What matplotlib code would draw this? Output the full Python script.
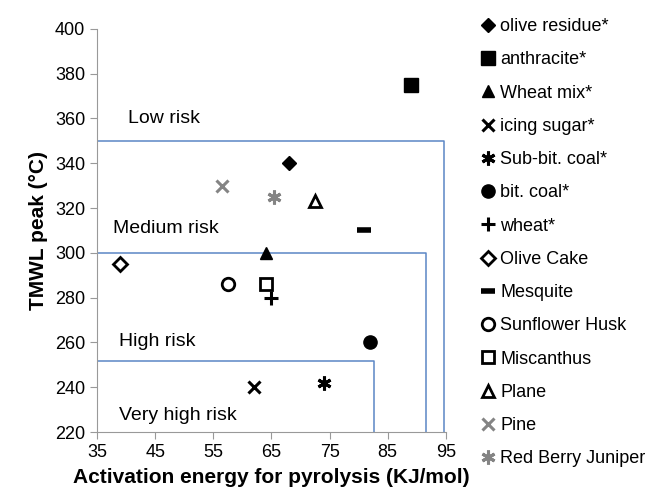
import matplotlib.pyplot as plt

plt.rcParams['font.family'] = ['Liberation Sans', 'DejaVu Sans']

# data
names = ["olive residue*", "anthracite*", "Wheat mix*", "icing sugar*", "Sub-bit. coal*",
         "bit. coal*", "wheat*", "Olive Cake", "Mesquite", "Sunflower Husk",
         "Miscanthus", "Plane", "Pine", "Red Berry Juniper"]
energy = [68, 89, 64, 62, 74, 82, 65, 39, 81, 57.5, 64, 72.5, 56.5, 65.5]
tmwl = [340, 375, 300, 240, 242, 260, 280, 295, 310, 286, 286, 323, 330, 325]

# risk zone boundaries: (y of horizontal line, x of vertical line)
zone_y = [350, 300, 251.5]
zone_x = [94.6, 91.5, 82.6]
zone_labels = ["Low risk", "Medium risk", "High risk", "Very high risk"]
zone_label_pos = [(40.3, 360), (37.8, 311), (38.8, 260.5), (38.8, 227.5)]

# marker styles
styles = [
    dict(marker='D', color='black', ms=7.5),
    dict(marker='s', color='black', ms=10),
    dict(marker='^', color='black', ms=8.5),
    dict(marker='x', color='black', ms=9, mew=2.2),
    dict(marker=(6, 2, 0), color='black', ms=10, mew=2.2),
    dict(marker='o', color='black', ms=9.5),
    dict(marker='+', color='black', ms=10, mew=2.2),
    dict(marker='D', mfc='white', mec='black', ms=7, mew=2),
    dict(marker='_', color='black', ms=10, mew=4),
    dict(marker='o', mfc='white', mec='black', ms=9, mew=2),
    dict(marker='s', mfc='white', mec='black', ms=9, mew=2),
    dict(marker='^', mfc='white', mec='black', ms=9, mew=2),
    dict(marker='x', color='#848484', ms=9, mew=2.2),
    dict(marker=(6, 2, 0), color='#848484', ms=10, mew=2.2),
]

fig = plt.figure(figsize=(6.49, 4.98), dpi=100)
ax = fig.add_axes([0.1495, 0.1325, 0.5375, 0.8095])

blue = '#5b86c5'
for y, x in zip(zone_y, zone_x):
    ax.plot([35, x, x], [y, y, 220], color=blue, lw=1.1, zorder=1)

handles = []
for name, x, y, st in zip(names, energy, tmwl, styles):
    h, = ax.plot([x], [y], linestyle='none', label=name, zorder=3, **st)
    handles.append(h)

for lab, (x, y) in zip(zone_labels, zone_label_pos):
    ax.text(x, y, lab, fontsize=14, va='center', ha='left')

ax.set_xlim(35, 95)
ax.set_ylim(220, 400)
ax.set_xticks(range(35, 96, 10))
ax.set_yticks(range(220, 401, 20))
for s in ['top', 'right']:
    ax.spines[s].set_visible(False)
for s in ['left', 'bottom']:
    ax.spines[s].set_color('#999999')
ax.tick_params(colors='#999999', labelcolor='black', labelsize=13, direction='out', length=5)

ax.set_xlabel("Activation energy for pyrolysis (KJ/mol)", fontsize=15, fontweight='bold', labelpad=5)
ax.set_ylabel("TMWL peak (\u00b0C)", fontsize=15, fontweight='bold', labelpad=5)

fig.legend(handles=handles, loc='upper left', bbox_to_anchor=(0.729, 0.978),
           frameon=False, fontsize=13, handlelength=0.8, handletextpad=0.3,
           labelspacing=0.9, borderaxespad=0)

fig.savefig("out.png", dpi=100)
